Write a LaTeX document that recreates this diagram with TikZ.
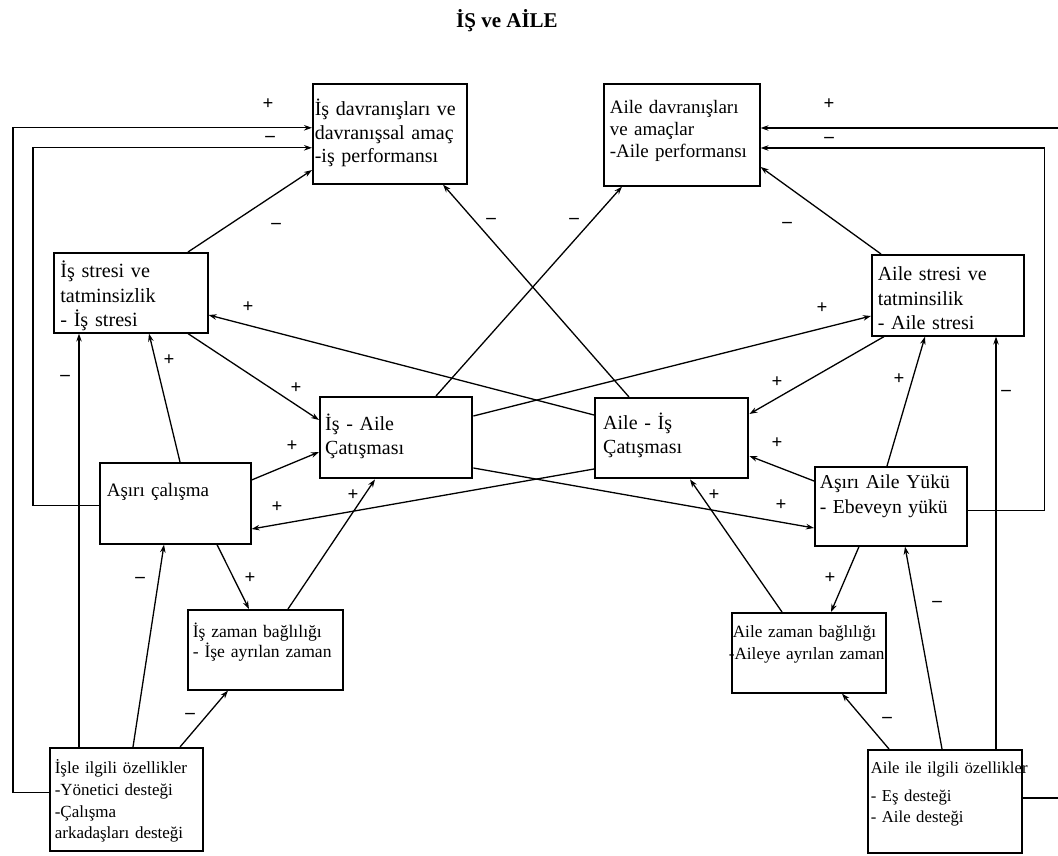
\documentclass[tikz,border=0pt]{standalone}
\usepackage{fontspec}
\setmainfont{Liberation Serif}
\usetikzlibrary{arrows.meta}

\begin{document}
\begin{tikzpicture}[x=1pt, y=-1pt, >={Stealth[length=8pt,width=5.5pt]}, line width=1.3pt] % Styles
\tikzstyle{box}=[draw, line width=1.6pt, anchor=north west, inner xsep=5pt, inner ysep=0pt, align=left, font=\fontsize{20}{24.5}\selectfont]
\tikzstyle{conflict}=[box, line width=2.4pt]
\tikzstyle{small}=[font=\fontsize{17}{21.7}\selectfont]
\tikzstyle{sign}=[inner sep=0pt, font=\fontsize{19}{19}\selectfont\bfseries]
\useasboundingbox (0,0) rectangle (1058,856);
\node[font=\fontsize{21}{21}\selectfont\bfseries] (title) at (507,21) {İŞ ve AİLE}; % Nodes
\node[box, inner xsep=2pt, text width=150pt, text height=32pt, text depth=68pt, font=\fontsize{20}{23.3}\selectfont] (isdav) at (312,83) {İş davranışları ve\\davranışsal amaç\\-iş performansı};
\node[box, inner xsep=6pt, text width=144pt, text height=30pt, text depth=72pt, font=\fontsize{19}{22}\selectfont] (ailedav) at (603,83) {Aile davranışları\\ve amaçlar\\-Aile performansı};
\node[box, inner xsep=6.5pt, text width=141pt, text height=25pt, text depth=55pt, font=\fontsize{20.2}{24.3}\selectfont] (isstres) at (53,252) {İş stresi ve\\tatminsizlik\\- İş stresi};
\node[box, inner xsep=6pt, text width=140pt, text height=26pt, text depth=55pt] (ailestres) at (871,254) {Aile stresi ve\\tatminsilik\\- Aile stresi};
\node[conflict, text width=142pt, text height=33pt, text depth=48pt, font=\fontsize{20}{24.7}\selectfont] (isaile) at (319,396) {İş - Aile\\Çatışması};
\node[conflict, inner xsep=8pt, text width=137pt, text height=31pt, text depth=49pt, font=\fontsize{20}{24.4}\selectfont] (aileis) at (594,397) {Aile - İş\\Çatışması};
\node[box, inner xsep=7pt, text width=137pt, text height=34pt, text depth=47pt, font=\fontsize{19}{24}\selectfont] (asiri) at (99,462) {Aşırı çalışma};
\node[box, text width=142pt, text height=22pt, text depth=57pt, font=\fontsize{19.7}{24.4}\selectfont] (asiriaile) at (814,466) {Aşırı Aile Yükü\\- Ebeveyn yükü};
\node[box, text width=145pt, text height=28pt, text depth=52pt, font=\fontsize{17.6}{20}\selectfont] (iszaman) at (187,609) {İş zaman bağlılığı\\- İşe ayrılan zaman};
\node[box, inner xsep=1pt, text width=152pt, text height=25pt, text depth=55pt, font=\fontsize{17.2}{21.7}\selectfont] (ailezaman) at (731,612) {Aile zaman bağlılığı\\\mbox{\kern-4pt-Aileye ayrılan zaman}};
\node[box, small, text width=143pt, text height=26pt, text depth=77pt] (isozellik) at (49,747) {İşle ilgili özellikler\\-Yönetici desteği\\-Çalışma\\arkadaşları desteği};
\node[box, small, inner xsep=3pt, text width=148pt, text height=23.5pt, text depth=79.5pt, font=\fontsize{16.7}{21.7}\selectfont] (aileozellik) at (867,749) {\mbox{Aile ile ilgili özellikler}\\[6pt]- Eş desteği\\- Aile desteği};
\coordinate (rtop) at (1058,128);
\coordinate (rbot) at (1058,798); % Feedback loops
\draw[->] ([yshift=6.5pt]isozellik.west) -- ++(-36,0) |- ([yshift=6pt]isdav.west);
\draw[->] ([yshift=-2.5pt]asiri.west) -- ++(-66,0) |- ([yshift=-14pt]isdav.west);
\draw (aileozellik.east |- rbot) -- (rbot);
\draw[->] (rtop) -- (ailedav.east |- rtop);
\draw[->] ([yshift=-4.5pt]asiriaile.east) -- ++(77,0) |- ([yshift=-65pt]ailedav.north east); % Connections
\draw[->] ([xshift=30pt]isozellik.north west) -- ([xshift=26pt]isstres.south west);
\draw[->] ([xshift=84pt]isozellik.north west) -- ([xshift=65pt]asiri.south west);
\draw[->] ([xshift=131pt]isozellik.north west) -- ([xshift=41pt]iszaman.south west);
\draw[->] ([xshift=118pt]asiri.south west) -- ([xshift=62pt]iszaman.north west);
\draw[->] ([xshift=101pt]iszaman.north west) -- ([xshift=56pt]isaile.south west);
\draw[->] ([yshift=-18pt]asiri.north east) -- ([yshift=-56pt]isaile.north west);
\draw[->] ([xshift=135pt]isstres.south west) -- ([yshift=-24pt]isaile.north west);
\draw[->] ([xshift=81pt]asiri.north west) -- ([xshift=96pt]isstres.south west);
\draw[->] ([xshift=135pt]isstres.north west) -- ([yshift=-87pt]isdav.north west);
\draw[->] ([xshift=35pt]aileis.north west) -- ([xshift=131pt]isdav.south west);
\draw[->] ([xshift=117pt]isaile.north west) -- ([xshift=19pt]ailedav.south west);
\draw[->] ([xshift=10pt]ailestres.north west) -- ([yshift=-84pt]ailedav.north east);
\draw[->] ([yshift=-18pt]aileis.north west) -- ([yshift=-63pt]isstres.north east);
\draw[->] ([yshift=-20pt]isaile.north east) -- ([yshift=-62pt]ailestres.north west);
\draw[->] ([yshift=-72pt]aileis.north west) -- ([yshift=-67pt]asiri.north east);
\draw[->] ([yshift=-72pt]isaile.north east) -- ([yshift=-62pt]asiriaile.north west);
\draw[->] ([xshift=13pt]ailestres.south west) -- ([yshift=-17pt]aileis.north east);
\draw[->] ([yshift=-15pt]asiriaile.north west) -- ([yshift=-59pt]aileis.north east);
\draw[->] ([xshift=73pt]asiriaile.north west) -- ([xshift=54pt]ailestres.south west);
\draw[->] ([xshift=129pt]aileozellik.north west) -- ([xshift=125pt]ailestres.south west);
\draw[->] ([xshift=75pt]aileozellik.north west) -- ([xshift=91pt]asiriaile.south west);
\draw[->] ([xshift=22pt]aileozellik.north west) -- ([xshift=111pt]ailezaman.south west);
\draw[->] ([xshift=45pt]asiriaile.south west) -- ([xshift=100pt]ailezaman.north west);
\draw[->] ([xshift=51pt]ailezaman.north west) -- ([xshift=96pt]aileis.south west); % Signs
\node[sign] (s1) at (268,104) {+};
\node[sign] (s2) at (270,139) {–};
\node[sign] (s3) at (829,104) {+};
\node[sign] (s4) at (829,140) {–};
\node[sign] (s5) at (276,226) {–};
\node[sign] (s6) at (491,221) {–};
\node[sign] (s7) at (574,221) {–};
\node[sign] (s8) at (787,225) {–};
\node[sign] (s9) at (248,307) {+};
\node[sign] (s10) at (822,308) {+};
\node[sign] (s11) at (65,378) {–};
\node[sign] (s12) at (169,360) {+};
\node[sign] (s13) at (296,388) {+};
\node[sign] (s14) at (292,446) {+};
\node[sign] (s15) at (277,507) {+};
\node[sign] (s16) at (353,495) {+};
\node[sign] (s17) at (140,580) {–};
\node[sign] (s18) at (250,578) {+};
\node[sign] (s19) at (190,716) {–};
\node[sign] (s20) at (777,382) {+};
\node[sign] (s21) at (899,379) {+};
\node[sign] (s22) at (1006,393) {–};
\node[sign] (s23) at (777,443) {+};
\node[sign] (s24) at (714,495) {+};
\node[sign] (s25) at (781,505) {+};
\node[sign] (s26) at (830,578) {+};
\node[sign] (s27) at (937,604) {–};
\node[sign] (s28) at (887,720) {–};
\end{tikzpicture}
\end{document}
